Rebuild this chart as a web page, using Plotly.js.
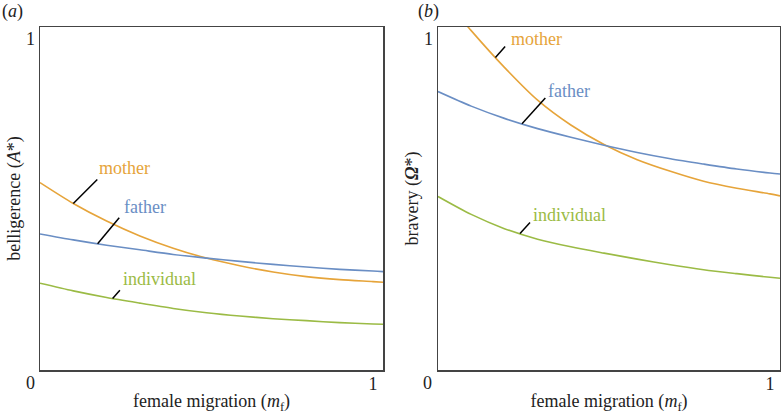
<!DOCTYPE html>
<html>
<head>
<meta charset="utf-8">
<script src="https://cdn.plot.ly/plotly-3.0.1.min.js"></script>
<style>html,body{margin:0;padding:0;background:#fff;}#chart{width:781px;height:420px;}</style>
</head>
<body>
<div id="chart"></div>
<script>
// female migration (m_f)
const xs = [0, 0.1, 0.2, 0.3, 0.4, 0.5, 0.6, 0.7, 0.8, 0.9, 1.0, 1.03];
// (a) belligerence A*
const motherA     = [0.566, 0.503, 0.450, 0.405, 0.368, 0.338, 0.315, 0.296, 0.282, 0.273, 0.267, 0.265];
const fatherA     = [0.411, 0.393, 0.377, 0.363, 0.349, 0.338, 0.328, 0.319, 0.311, 0.304, 0.299, 0.297];
const individualA = [0.262, 0.239, 0.219, 0.202, 0.186, 0.173, 0.163, 0.155, 0.149, 0.143, 0.139, 0.138];
// (b) bravery Omega*
const motherB     = [1.145, 1.025, 0.914, 0.815, 0.740, 0.681, 0.635, 0.600, 0.570, 0.549, 0.532, 0.526];
const fatherB     = [0.841, 0.797, 0.760, 0.729, 0.703, 0.679, 0.657, 0.638, 0.622, 0.607, 0.595, 0.592];
const individualB = [0.524, 0.470, 0.427, 0.395, 0.372, 0.353, 0.335, 0.318, 0.303, 0.291, 0.280, 0.277];

const seriesNames = ['mother', 'father', 'individual'];
const colors = {mother: '#E6A43A', father: '#6A8EC4', individual: '#9BBB45'};
// where each label's leader line touches its curve (x value)
const leaderAtA = {mother: 0.1, father: 0.173, individual: 0.218};
const leaderAtB = {mother: 0.173, father: 0.253, individual: 0.247};
// label text positions (data units)
const labelPosA = {mother: [0.255, 0.610], father: [0.315, 0.492], individual: [0.358, 0.275]};
const labelPosB = {mother: [0.297, 0.999], father: [0.395, 0.844], individual: [0.395, 0.468]};
// leader line pixel extents
const leaderLen = {
  a: {mother: [24, 24], father: [21.6, 26], individual: [7.3, 8.3]},
  b: {mother: [9.7, 11], father: [23.3, 25.7], individual: [10, 11]}
};

const FONT = "Liberation Serif";

function interp(xv, yv, x) {
  for (let i = 0; i < xv.length - 1; i++) {
    if (x >= xv[i] && x <= xv[i + 1]) {
      const t = (x - xv[i]) / (xv[i + 1] - xv[i]);
      return yv[i] + t * (yv[i + 1] - yv[i]);
    }
  }
  return yv[yv.length - 1];
}

const dataA = {mother: motherA, father: fatherA, individual: individualA};
const dataB = {mother: motherB, father: fatherB, individual: individualB};

const traces = [];
seriesNames.forEach(n => {
  traces.push({x: xs, y: dataA[n], type: 'scatter', mode: 'lines', name: n, xaxis: 'x', yaxis: 'y',
    line: {color: colors[n], width: 1.6, shape: 'spline', smoothing: 0.8}, showlegend: false, hoverinfo: 'skip'});
});
seriesNames.forEach(n => {
  traces.push({x: xs, y: dataB[n], type: 'scatter', mode: 'lines', name: n, xaxis: 'x2', yaxis: 'y2',
    line: {color: colors[n], width: 1.6, shape: 'spline', smoothing: 0.8}, showlegend: false, hoverinfo: 'skip'});
});

const shapes = [];
const annotations = [];
function addLabels(panel, data, leaderAt, labelPos, xr, yr) {
  seriesNames.forEach(n => {
    const lx = leaderAt[n];
    const ly = interp(xs, data[n], lx);
    const len = leaderLen[panel][n];
    shapes.push({type: 'line', xref: xr, yref: yr, xsizemode: 'pixel', ysizemode: 'pixel',
      xanchor: lx, yanchor: ly, x0: 0, y0: 0, x1: len[0], y1: len[1],
      line: {color: '#000', width: 1.5}});
    annotations.push({xref: xr, yref: yr, x: labelPos[n][0], y: labelPos[n][1], text: n, showarrow: false,
      font: {family: FONT, size: 18, color: colors[n]}, xanchor: 'center', yanchor: 'middle'});
  });
}
addLabels('a', dataA, leaderAtA, labelPosA, 'x', 'y');
addLabels('b', dataB, leaderAtB, labelPosB, 'x2', 'y2');

// shared corner "0" tick labels
annotations.push({xref: 'x', yref: 'y', x: 0, y: 0, text: '0', showarrow: false, xshift: -10, yshift: -13,
  font: {family: FONT, size: 18, color: '#222'}});
annotations.push({xref: 'x2', yref: 'y2', x: 0, y: 0, text: '0', showarrow: false, xshift: -11, yshift: -13,
  font: {family: FONT, size: 18, color: '#222'}});
// panel labels
annotations.push({xref: 'paper', yref: 'paper', x: 0.0, y: 1.0, xanchor: 'left', yanchor: 'top', text: '(<i>a</i>)', showarrow: false,
  font: {family: FONT, size: 18, color: '#222'}, yshift: 1});
annotations.push({xref: 'paper', yref: 'paper', x: 416 / 781, y: 1.0, xanchor: 'left', yanchor: 'top', text: '(<i>b</i>)', showarrow: false,
  font: {family: FONT, size: 18, color: '#222'}, yshift: 1});

const axCommon = {showgrid: false, zeroline: false, showline: true, mirror: true, linecolor: '#444', linewidth: 1.5,
  ticks: '', tickvals: [1], ticktext: ['1'], tickfont: {family: FONT, size: 18, color: '#222'}, fixedrange: true};

const layout = {
  width: 781, height: 420,
  margin: {l: 0, r: 0, t: 0, b: 0},
  paper_bgcolor: '#fff', plot_bgcolor: '#fff',
  font: {family: FONT, size: 18, color: '#222'},
  xaxis: Object.assign({}, axCommon, {domain: [40 / 781, 383 / 781], range: [0, 1.03], anchor: 'y', ticklabelstandoff: -3,
    title: {text: 'female migration (<i>m</i><sub>f</sub>)', standoff: 1, font: {family: FONT, size: 18, color: '#222'}}}),
  yaxis: Object.assign({}, axCommon, {domain: [50 / 420, 393 / 420], range: [0, 1.036], anchor: 'x',
    title: {text: 'belligerence (<i>A</i>*)', standoff: 0, font: {family: FONT, size: 18, color: '#222'}}}),
  xaxis2: Object.assign({}, axCommon, {domain: [438 / 781, 780 / 781], range: [0, 1.03], anchor: 'y2', ticklabelstandoff: -3,
    title: {text: 'female migration (<i>m</i><sub>f</sub>)', standoff: 1, font: {family: FONT, size: 18, color: '#222'}}}),
  yaxis2: Object.assign({}, axCommon, {domain: [50 / 420, 393 / 420], range: [0, 1.036], anchor: 'x2',
    title: {text: 'bravery (<b><i>Ω</i></b>*)', standoff: 0, font: {family: FONT, size: 18, color: '#222'}}}),
  shapes: shapes,
  annotations: annotations
};

Plotly.newPlot('chart', traces, layout, {staticPlot: true, displayModeBar: false});
</script>
</body>
</html>
